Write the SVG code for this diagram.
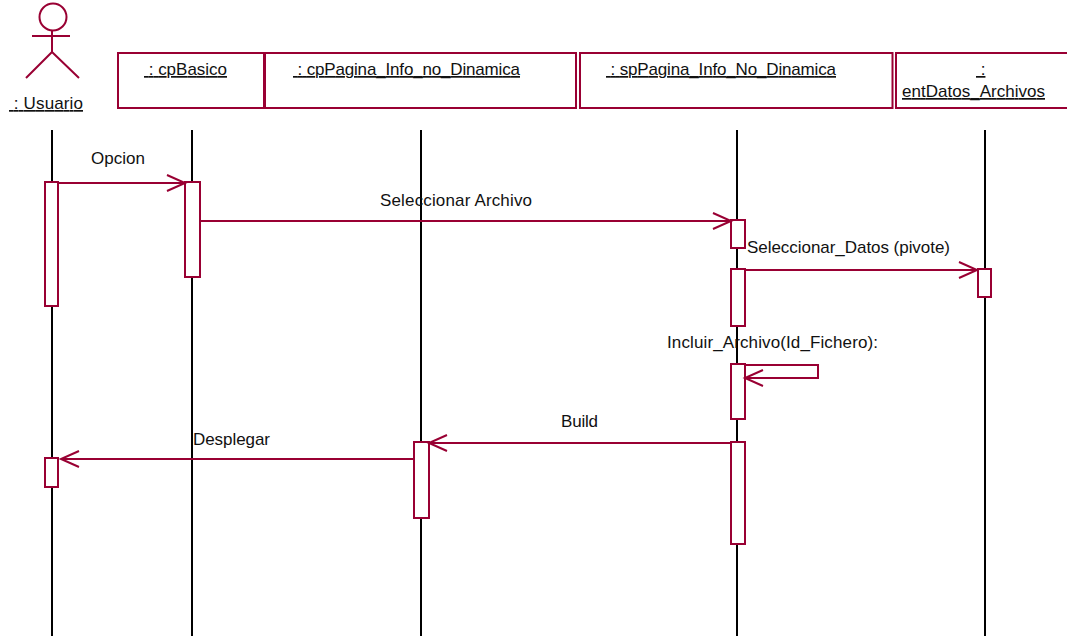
<svg xmlns="http://www.w3.org/2000/svg" width="1067" height="636" viewBox="0 0 1067 636">
<style>
.s{fill:none;stroke:#990033;stroke-width:2}
.b{fill:#fff;stroke:#990033;stroke-width:2}
.l{stroke:#000;stroke-width:2;fill:none}
text{font-family:"Liberation Sans",Arial,sans-serif;font-size:17px;fill:#111}
.u{text-decoration:underline;text-decoration-thickness:2px;text-underline-offset:2.5px}
</style>
<defs>
<marker id="a" markerUnits="userSpaceOnUse" markerWidth="22" markerHeight="20" refX="19" refY="9" orient="auto"><path d="M1 1L19 9L1 17" fill="none" stroke="#990033" stroke-width="2"/></marker>
</defs>
<rect width="1067" height="636" fill="#fff"/>
<g id="lifelines">
<path class="l" d="M52 130V636M192 130V636M421 130V636M737 130V636M985 130V636"/>
</g>
<g id="n-usuario">
<circle class="s" cx="53" cy="17" r="13.5"/>
<path class="s" d="M32 36H70M52 31V52M52 52L26 78M52 52L79 78"/>
<text class="u" x="9" y="109" textLength="74">&#160;: Usuario</text>
</g>
<g id="n-cpbasico">
<rect class="b" x="118" y="53" width="146" height="55"/>
<text class="u" x="144" y="75" textLength="83">&#160;: cpBasico</text>
</g>
<g id="n-cppagina">
<rect class="b" x="265" y="53" width="311" height="55"/>
<text class="u" x="293" y="75" textLength="227">&#160;: cpPagina_Info_no_Dinamica</text>
</g>
<g id="n-sppagina">
<rect class="b" x="580" y="53" width="312.500" height="55"/>
<text class="u" x="606" y="75" textLength="230">&#160;: spPagina_Info_No_Dinamica</text>
</g>
<g id="n-entdatos">
<path class="s" d="M1067 53H896V108H1067"/>
<text class="u" x="976" y="75">&#160;:</text>
<text class="u" x="902" y="97" textLength="143">entDatos_Archivos</text>
</g>
<g id="activations">
<rect class="b" x="45" y="182" width="13" height="124"/>
<rect class="b" x="185" y="182" width="15" height="95"/>
<rect class="b" x="731" y="220" width="14" height="28"/>
<rect class="b" x="731" y="269" width="14" height="57"/>
<rect class="b" x="978" y="269" width="13" height="28"/>
<rect class="b" x="731" y="364" width="14" height="55"/>
<rect class="b" x="731" y="442" width="14" height="102"/>
<rect class="b" x="414" y="442" width="15" height="76"/>
<rect class="b" x="45" y="458" width="13" height="29"/>
</g>
<g id="connectors">
<path class="s" marker-end="url(#a)" d="M58 183H185"/>
<path class="s" marker-end="url(#a)" d="M200 221H731"/>
<path class="s" marker-end="url(#a)" d="M745 270H977"/>
<path class="s" marker-end="url(#a)" d="M745 365H818V378H745"/>
<path class="s" marker-end="url(#a)" d="M731 443H429"/>
<path class="s" marker-end="url(#a)" d="M414 459H61"/>
</g>
<g id="labels">
<text x="91" y="164" textLength="54">Opcion</text>
<text x="380" y="206" textLength="152">Seleccionar Archivo</text>
<text x="747" y="253" textLength="203">Seleccionar_Datos (pivote)</text>
<text x="667" y="347.500" textLength="211">Incluir_Archivo(Id_Fichero):</text>
<text x="561" y="427" textLength="37">Build</text>
<text x="193" y="445" textLength="77">Desplegar</text>
</g>
</svg>
